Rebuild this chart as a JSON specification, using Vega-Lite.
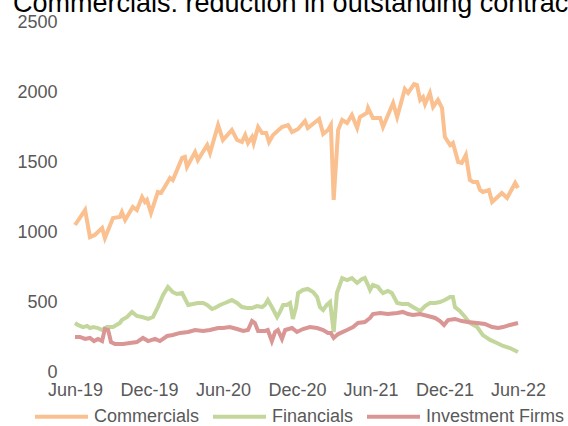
{
  "$schema": "https://vega.github.io/schema/vega-lite/v6.json",
  "width": 443,
  "height": 350,
  "autosize": {"type": "none"},
  "padding": {"left": 75, "top": 22, "right": 50, "bottom": 54},
  "background": "white",
  "title": {"text": "Commercials: reduction in outstanding contracts", "anchor": "start", "frame": "group", "dx": -62, "fontSize": 27, "font": "Liberation Sans", "fontWeight": "normal", "color": "#000000", "offset": -5},
  "config": {
    "view": {"stroke": null},
    "axis": {"labelFont": "Liberation Sans", "labelFontSize": 18, "labelColor": "#595959", "grid": false, "ticks": false, "domain": false, "title": null},
    "legend": {"labelFont": "Liberation Sans", "labelFontSize": 18, "labelColor": "#595959"}
  },
  "data": {"values": [
    {"date": "2019-06-01", "series": "Commercials", "value": 1050},
    {"date": "2019-06-26", "series": "Commercials", "value": 1157},
    {"date": "2019-07-08", "series": "Commercials", "value": 964},
    {"date": "2019-07-20", "series": "Commercials", "value": 979},
    {"date": "2019-08-07", "series": "Commercials", "value": 1029},
    {"date": "2019-08-14", "series": "Commercials", "value": 957},
    {"date": "2019-09-03", "series": "Commercials", "value": 1100},
    {"date": "2019-09-20", "series": "Commercials", "value": 1107},
    {"date": "2019-09-25", "series": "Commercials", "value": 1143},
    {"date": "2019-10-03", "series": "Commercials", "value": 1086},
    {"date": "2019-10-22", "series": "Commercials", "value": 1179},
    {"date": "2019-11-01", "series": "Commercials", "value": 1157},
    {"date": "2019-11-14", "series": "Commercials", "value": 1250},
    {"date": "2019-11-21", "series": "Commercials", "value": 1214},
    {"date": "2019-11-26", "series": "Commercials", "value": 1229},
    {"date": "2019-12-06", "series": "Commercials", "value": 1136},
    {"date": "2019-12-23", "series": "Commercials", "value": 1286},
    {"date": "2019-12-31", "series": "Commercials", "value": 1279},
    {"date": "2020-01-22", "series": "Commercials", "value": 1386},
    {"date": "2020-01-29", "series": "Commercials", "value": 1371},
    {"date": "2020-02-21", "series": "Commercials", "value": 1529},
    {"date": "2020-02-28", "series": "Commercials", "value": 1536},
    {"date": "2020-03-04", "series": "Commercials", "value": 1464},
    {"date": "2020-03-24", "series": "Commercials", "value": 1571},
    {"date": "2020-03-31", "series": "Commercials", "value": 1514},
    {"date": "2020-04-23", "series": "Commercials", "value": 1621},
    {"date": "2020-04-30", "series": "Commercials", "value": 1564},
    {"date": "2020-05-20", "series": "Commercials", "value": 1764},
    {"date": "2020-06-01", "series": "Commercials", "value": 1657},
    {"date": "2020-06-23", "series": "Commercials", "value": 1729},
    {"date": "2020-07-06", "series": "Commercials", "value": 1657},
    {"date": "2020-07-18", "series": "Commercials", "value": 1643},
    {"date": "2020-07-26", "series": "Commercials", "value": 1693},
    {"date": "2020-08-02", "series": "Commercials", "value": 1636},
    {"date": "2020-08-12", "series": "Commercials", "value": 1679},
    {"date": "2020-08-16", "series": "Commercials", "value": 1636},
    {"date": "2020-08-27", "series": "Commercials", "value": 1750},
    {"date": "2020-09-06", "series": "Commercials", "value": 1707},
    {"date": "2020-09-16", "series": "Commercials", "value": 1707},
    {"date": "2020-09-23", "series": "Commercials", "value": 1643},
    {"date": "2020-10-03", "series": "Commercials", "value": 1693},
    {"date": "2020-10-25", "series": "Commercials", "value": 1750},
    {"date": "2020-11-09", "series": "Commercials", "value": 1764},
    {"date": "2020-11-19", "series": "Commercials", "value": 1714},
    {"date": "2020-12-04", "series": "Commercials", "value": 1736},
    {"date": "2020-12-21", "series": "Commercials", "value": 1793},
    {"date": "2020-12-28", "series": "Commercials", "value": 1743},
    {"date": "2021-01-25", "series": "Commercials", "value": 1807},
    {"date": "2021-02-04", "series": "Commercials", "value": 1700},
    {"date": "2021-02-16", "series": "Commercials", "value": 1729},
    {"date": "2021-02-23", "series": "Commercials", "value": 1764},
    {"date": "2021-03-02", "series": "Commercials", "value": 1229},
    {"date": "2021-03-13", "series": "Commercials", "value": 1729},
    {"date": "2021-03-23", "series": "Commercials", "value": 1800},
    {"date": "2021-04-04", "series": "Commercials", "value": 1779},
    {"date": "2021-04-16", "series": "Commercials", "value": 1836},
    {"date": "2021-04-29", "series": "Commercials", "value": 1743},
    {"date": "2021-05-06", "series": "Commercials", "value": 1821},
    {"date": "2021-05-23", "series": "Commercials", "value": 1850},
    {"date": "2021-05-26", "series": "Commercials", "value": 1886},
    {"date": "2021-06-07", "series": "Commercials", "value": 1814},
    {"date": "2021-06-25", "series": "Commercials", "value": 1814},
    {"date": "2021-07-02", "series": "Commercials", "value": 1750},
    {"date": "2021-07-27", "series": "Commercials", "value": 1921},
    {"date": "2021-08-06", "series": "Commercials", "value": 1821},
    {"date": "2021-08-25", "series": "Commercials", "value": 2021},
    {"date": "2021-09-02", "series": "Commercials", "value": 1993},
    {"date": "2021-09-17", "series": "Commercials", "value": 2057},
    {"date": "2021-09-24", "series": "Commercials", "value": 2050},
    {"date": "2021-10-02", "series": "Commercials", "value": 1943},
    {"date": "2021-10-09", "series": "Commercials", "value": 1964},
    {"date": "2021-10-14", "series": "Commercials", "value": 1914},
    {"date": "2021-10-26", "series": "Commercials", "value": 1993},
    {"date": "2021-11-03", "series": "Commercials", "value": 1893},
    {"date": "2021-11-15", "series": "Commercials", "value": 1943},
    {"date": "2021-11-25", "series": "Commercials", "value": 1886},
    {"date": "2021-12-02", "series": "Commercials", "value": 1679},
    {"date": "2021-12-15", "series": "Commercials", "value": 1621},
    {"date": "2021-12-22", "series": "Commercials", "value": 1636},
    {"date": "2022-01-04", "series": "Commercials", "value": 1500},
    {"date": "2022-01-13", "series": "Commercials", "value": 1493},
    {"date": "2022-01-23", "series": "Commercials", "value": 1550},
    {"date": "2022-02-02", "series": "Commercials", "value": 1371},
    {"date": "2022-02-10", "series": "Commercials", "value": 1357},
    {"date": "2022-02-20", "series": "Commercials", "value": 1357},
    {"date": "2022-02-27", "series": "Commercials", "value": 1300},
    {"date": "2022-03-06", "series": "Commercials", "value": 1286},
    {"date": "2022-03-21", "series": "Commercials", "value": 1300},
    {"date": "2022-03-29", "series": "Commercials", "value": 1214},
    {"date": "2022-04-22", "series": "Commercials", "value": 1279},
    {"date": "2022-05-05", "series": "Commercials", "value": 1243},
    {"date": "2022-05-25", "series": "Commercials", "value": 1350},
    {"date": "2022-06-01", "series": "Commercials", "value": 1314},

    {"date": "2019-06-01", "series": "Financials", "value": 350},
    {"date": "2019-06-08", "series": "Financials", "value": 336},
    {"date": "2019-06-21", "series": "Financials", "value": 321},
    {"date": "2019-07-01", "series": "Financials", "value": 329},
    {"date": "2019-07-08", "series": "Financials", "value": 314},
    {"date": "2019-07-16", "series": "Financials", "value": 321},
    {"date": "2019-07-28", "series": "Financials", "value": 314},
    {"date": "2019-08-07", "series": "Financials", "value": 300},
    {"date": "2019-08-19", "series": "Financials", "value": 321},
    {"date": "2019-09-03", "series": "Financials", "value": 321},
    {"date": "2019-09-20", "series": "Financials", "value": 350},
    {"date": "2019-09-25", "series": "Financials", "value": 371},
    {"date": "2019-10-08", "series": "Financials", "value": 393},
    {"date": "2019-10-20", "series": "Financials", "value": 429},
    {"date": "2019-11-01", "series": "Financials", "value": 400},
    {"date": "2019-11-14", "series": "Financials", "value": 393},
    {"date": "2019-11-29", "series": "Financials", "value": 379},
    {"date": "2019-12-11", "series": "Financials", "value": 393},
    {"date": "2019-12-23", "series": "Financials", "value": 464},
    {"date": "2020-01-05", "series": "Financials", "value": 550},
    {"date": "2020-01-17", "series": "Financials", "value": 607},
    {"date": "2020-01-29", "series": "Financials", "value": 571},
    {"date": "2020-02-08", "series": "Financials", "value": 557},
    {"date": "2020-02-21", "series": "Financials", "value": 564},
    {"date": "2020-03-07", "series": "Financials", "value": 479},
    {"date": "2020-03-19", "series": "Financials", "value": 486},
    {"date": "2020-03-31", "series": "Financials", "value": 493},
    {"date": "2020-04-13", "series": "Financials", "value": 493},
    {"date": "2020-04-23", "series": "Financials", "value": 479},
    {"date": "2020-05-05", "series": "Financials", "value": 450},
    {"date": "2020-05-12", "series": "Financials", "value": 457},
    {"date": "2020-05-25", "series": "Financials", "value": 479},
    {"date": "2020-06-06", "series": "Financials", "value": 493},
    {"date": "2020-06-23", "series": "Financials", "value": 514},
    {"date": "2020-07-06", "series": "Financials", "value": 493},
    {"date": "2020-07-18", "series": "Financials", "value": 464},
    {"date": "2020-07-31", "series": "Financials", "value": 457},
    {"date": "2020-08-12", "series": "Financials", "value": 457},
    {"date": "2020-08-24", "series": "Financials", "value": 471},
    {"date": "2020-09-06", "series": "Financials", "value": 464},
    {"date": "2020-09-13", "series": "Financials", "value": 479},
    {"date": "2020-09-20", "series": "Financials", "value": 514},
    {"date": "2020-09-30", "series": "Financials", "value": 464},
    {"date": "2020-10-13", "series": "Financials", "value": 393},
    {"date": "2020-10-20", "series": "Financials", "value": 429},
    {"date": "2020-10-28", "series": "Financials", "value": 479},
    {"date": "2020-11-06", "series": "Financials", "value": 479},
    {"date": "2020-11-14", "series": "Financials", "value": 493},
    {"date": "2020-11-21", "series": "Financials", "value": 379},
    {"date": "2020-11-29", "series": "Financials", "value": 464},
    {"date": "2020-12-04", "series": "Financials", "value": 564},
    {"date": "2020-12-16", "series": "Financials", "value": 586},
    {"date": "2020-12-28", "series": "Financials", "value": 593},
    {"date": "2021-01-10", "series": "Financials", "value": 571},
    {"date": "2021-01-20", "series": "Financials", "value": 536},
    {"date": "2021-01-27", "series": "Financials", "value": 464},
    {"date": "2021-02-04", "series": "Financials", "value": 443},
    {"date": "2021-02-13", "series": "Financials", "value": 479},
    {"date": "2021-02-21", "series": "Financials", "value": 500},
    {"date": "2021-03-02", "series": "Financials", "value": 286},
    {"date": "2021-03-10", "series": "Financials", "value": 564},
    {"date": "2021-03-23", "series": "Financials", "value": 671},
    {"date": "2021-04-04", "series": "Financials", "value": 657},
    {"date": "2021-04-16", "series": "Financials", "value": 671},
    {"date": "2021-04-29", "series": "Financials", "value": 636},
    {"date": "2021-05-11", "series": "Financials", "value": 664},
    {"date": "2021-05-18", "series": "Financials", "value": 671},
    {"date": "2021-05-26", "series": "Financials", "value": 621},
    {"date": "2021-05-31", "series": "Financials", "value": 586},
    {"date": "2021-06-07", "series": "Financials", "value": 621},
    {"date": "2021-06-20", "series": "Financials", "value": 607},
    {"date": "2021-06-25", "series": "Financials", "value": 586},
    {"date": "2021-07-02", "series": "Financials", "value": 564},
    {"date": "2021-07-14", "series": "Financials", "value": 579},
    {"date": "2021-07-24", "series": "Financials", "value": 564},
    {"date": "2021-08-06", "series": "Financials", "value": 493},
    {"date": "2021-08-18", "series": "Financials", "value": 486},
    {"date": "2021-09-02", "series": "Financials", "value": 486},
    {"date": "2021-09-14", "series": "Financials", "value": 464},
    {"date": "2021-10-02", "series": "Financials", "value": 436},
    {"date": "2021-10-14", "series": "Financials", "value": 471},
    {"date": "2021-10-26", "series": "Financials", "value": 493},
    {"date": "2021-11-08", "series": "Financials", "value": 493},
    {"date": "2021-11-20", "series": "Financials", "value": 500},
    {"date": "2021-12-02", "series": "Financials", "value": 514},
    {"date": "2021-12-15", "series": "Financials", "value": 536},
    {"date": "2021-12-22", "series": "Financials", "value": 536},
    {"date": "2021-12-27", "series": "Financials", "value": 464},
    {"date": "2022-01-08", "series": "Financials", "value": 436},
    {"date": "2022-01-21", "series": "Financials", "value": 393},
    {"date": "2022-02-02", "series": "Financials", "value": 350},
    {"date": "2022-02-20", "series": "Financials", "value": 321},
    {"date": "2022-03-06", "series": "Financials", "value": 264},
    {"date": "2022-03-24", "series": "Financials", "value": 229},
    {"date": "2022-04-10", "series": "Financials", "value": 207},
    {"date": "2022-04-25", "series": "Financials", "value": 186},
    {"date": "2022-05-12", "series": "Financials", "value": 171},
    {"date": "2022-06-01", "series": "Financials", "value": 143},

    {"date": "2019-06-01", "series": "Investment Firms", "value": 250},
    {"date": "2019-06-13", "series": "Investment Firms", "value": 250},
    {"date": "2019-06-26", "series": "Investment Firms", "value": 236},
    {"date": "2019-07-08", "series": "Investment Firms", "value": 243},
    {"date": "2019-07-18", "series": "Investment Firms", "value": 221},
    {"date": "2019-07-28", "series": "Investment Firms", "value": 236},
    {"date": "2019-08-07", "series": "Investment Firms", "value": 221},
    {"date": "2019-08-14", "series": "Investment Firms", "value": 307},
    {"date": "2019-08-22", "series": "Investment Firms", "value": 300},
    {"date": "2019-08-29", "series": "Investment Firms", "value": 214},
    {"date": "2019-09-08", "series": "Investment Firms", "value": 200},
    {"date": "2019-09-28", "series": "Investment Firms", "value": 200},
    {"date": "2019-10-15", "series": "Investment Firms", "value": 207},
    {"date": "2019-11-01", "series": "Investment Firms", "value": 214},
    {"date": "2019-11-16", "series": "Investment Firms", "value": 243},
    {"date": "2019-11-29", "series": "Investment Firms", "value": 221},
    {"date": "2019-12-16", "series": "Investment Firms", "value": 236},
    {"date": "2019-12-28", "series": "Investment Firms", "value": 221},
    {"date": "2020-01-15", "series": "Investment Firms", "value": 257},
    {"date": "2020-01-29", "series": "Investment Firms", "value": 264},
    {"date": "2020-02-16", "series": "Investment Firms", "value": 279},
    {"date": "2020-03-07", "series": "Investment Firms", "value": 286},
    {"date": "2020-03-24", "series": "Investment Firms", "value": 300},
    {"date": "2020-04-13", "series": "Investment Firms", "value": 293},
    {"date": "2020-04-30", "series": "Investment Firms", "value": 300},
    {"date": "2020-05-20", "series": "Investment Firms", "value": 314},
    {"date": "2020-06-01", "series": "Investment Firms", "value": 314},
    {"date": "2020-06-18", "series": "Investment Firms", "value": 321},
    {"date": "2020-07-06", "series": "Investment Firms", "value": 307},
    {"date": "2020-07-21", "series": "Investment Firms", "value": 293},
    {"date": "2020-08-02", "series": "Investment Firms", "value": 300},
    {"date": "2020-08-12", "series": "Investment Firms", "value": 364},
    {"date": "2020-08-19", "series": "Investment Firms", "value": 350},
    {"date": "2020-08-27", "series": "Investment Firms", "value": 293},
    {"date": "2020-09-13", "series": "Investment Firms", "value": 293},
    {"date": "2020-09-20", "series": "Investment Firms", "value": 300},
    {"date": "2020-09-30", "series": "Investment Firms", "value": 221},
    {"date": "2020-10-08", "series": "Investment Firms", "value": 286},
    {"date": "2020-10-15", "series": "Investment Firms", "value": 300},
    {"date": "2020-10-25", "series": "Investment Firms", "value": 236},
    {"date": "2020-11-02", "series": "Investment Firms", "value": 300},
    {"date": "2020-11-19", "series": "Investment Firms", "value": 314},
    {"date": "2020-12-01", "series": "Investment Firms", "value": 286},
    {"date": "2020-12-16", "series": "Investment Firms", "value": 307},
    {"date": "2021-01-02", "series": "Investment Firms", "value": 321},
    {"date": "2021-01-20", "series": "Investment Firms", "value": 314},
    {"date": "2021-02-04", "series": "Investment Firms", "value": 300},
    {"date": "2021-02-16", "series": "Investment Firms", "value": 279},
    {"date": "2021-02-23", "series": "Investment Firms", "value": 279},
    {"date": "2021-03-02", "series": "Investment Firms", "value": 243},
    {"date": "2021-03-13", "series": "Investment Firms", "value": 271},
    {"date": "2021-04-04", "series": "Investment Firms", "value": 300},
    {"date": "2021-04-19", "series": "Investment Firms", "value": 321},
    {"date": "2021-05-01", "series": "Investment Firms", "value": 350},
    {"date": "2021-05-18", "series": "Investment Firms", "value": 357},
    {"date": "2021-05-31", "series": "Investment Firms", "value": 386},
    {"date": "2021-06-07", "series": "Investment Firms", "value": 414},
    {"date": "2021-06-25", "series": "Investment Firms", "value": 421},
    {"date": "2021-07-14", "series": "Investment Firms", "value": 414},
    {"date": "2021-08-06", "series": "Investment Firms", "value": 421},
    {"date": "2021-08-20", "series": "Investment Firms", "value": 429},
    {"date": "2021-09-02", "series": "Investment Firms", "value": 414},
    {"date": "2021-09-14", "series": "Investment Firms", "value": 407},
    {"date": "2021-10-02", "series": "Investment Firms", "value": 414},
    {"date": "2021-10-21", "series": "Investment Firms", "value": 400},
    {"date": "2021-11-08", "series": "Investment Firms", "value": 386},
    {"date": "2021-11-20", "series": "Investment Firms", "value": 364},
    {"date": "2021-11-30", "series": "Investment Firms", "value": 336},
    {"date": "2021-12-10", "series": "Investment Firms", "value": 371},
    {"date": "2021-12-27", "series": "Investment Firms", "value": 379},
    {"date": "2022-01-13", "series": "Investment Firms", "value": 364},
    {"date": "2022-01-28", "series": "Investment Firms", "value": 357},
    {"date": "2022-02-20", "series": "Investment Firms", "value": 350},
    {"date": "2022-03-11", "series": "Investment Firms", "value": 343},
    {"date": "2022-03-29", "series": "Investment Firms", "value": 321},
    {"date": "2022-04-13", "series": "Investment Firms", "value": 314},
    {"date": "2022-04-25", "series": "Investment Firms", "value": 321},
    {"date": "2022-05-12", "series": "Investment Firms", "value": 336},
    {"date": "2022-06-01", "series": "Investment Firms", "value": 350}
  ]},
  "mark": {"type": "line", "strokeWidth": 4},
  "encoding": {
    "x": {
      "field": "date", "type": "temporal",
      "scale": {"domain": [{"year": 2019, "month": 6, "date": 1}, {"year": 2022, "month": 6, "date": 1}]},
      "axis": {
        "values": [
          {"year": 2019, "month": 6, "date": 1}, {"year": 2019, "month": 12, "date": 1},
          {"year": 2020, "month": 6, "date": 1}, {"year": 2020, "month": 12, "date": 1},
          {"year": 2021, "month": 6, "date": 1}, {"year": 2021, "month": 12, "date": 1},
          {"year": 2022, "month": 6, "date": 1}
        ],
        "format": "%b-%y", "labelPadding": 9, "labelFlush": false, "labelOverlap": false
      }
    },
    "y": {
      "field": "value", "type": "quantitative",
      "scale": {"domain": [0, 2500], "nice": false},
      "axis": {"values": [0, 500, 1000, 1500, 2000, 2500], "format": "d", "labelPadding": 18, "labelFlush": false}
    },
    "color": {
      "field": "series", "type": "nominal",
      "scale": {"domain": ["Commercials", "Financials", "Investment Firms"], "range": ["#FAC090", "#C3D69B", "#D99694"]},
      "legend": {"title": null, "orient": "none", "direction": "horizontal", "legendX": -42, "legendY": 366, "symbolType": "stroke", "symbolSize": 2809, "symbolStrokeWidth": 4, "labelOffset": 4, "columnPadding": 5}
    }
  }
}
